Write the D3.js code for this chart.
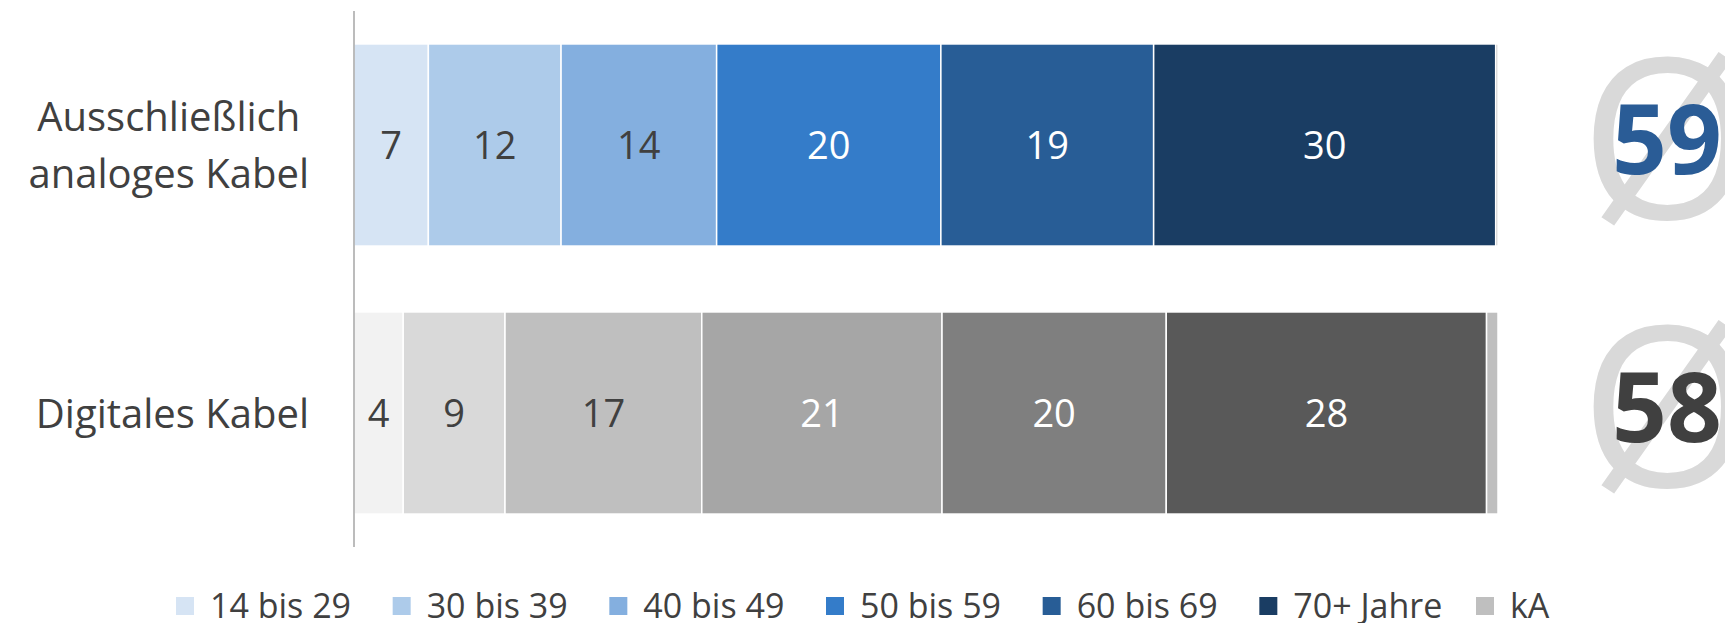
<!DOCTYPE html>
<html><head><meta charset="utf-8">
<script src="https://cdn.jsdelivr.net/npm/d3@7"></script>
<style>html,body{margin:0;padding:0;background:#fff;}svg{display:block;}</style>
</head><body>
<svg id="chart" width="1725" height="623"></svg>
<script>
const categories = [["Ausschließlich", "analoges Kabel"], ["Digitales Kabel"]];
const categoryKeys = ["analog", "digital"];
const seriesNames = ["14 bis 29", "30 bis 39", "40 bis 49", "50 bis 59", "60 bis 69", "70+ Jahre", "kA"];
const analogValues = [6.5, 11.6, 13.6, 19.6, 18.6, 29.9, 0.2];
const digitalValues = [4.3, 8.9, 17.2, 21.0, 19.6, 28.0, 1.0];
const averages = [59, 58];
const blueColors = ["#D6E4F4", "#ADCBEA", "#84AFDF", "#347CC9", "#285D96", "#1A3D63", "#BFBFBF"];
const grayColors = ["#F2F2F2", "#D9D9D9", "#BFBFBF", "#A6A6A6", "#7F7F7F", "#595959", "#BFBFBF"];
const legendColors = ["#D6E4F4", "#ADCBEA", "#84AFDF", "#347CC9", "#285D96", "#1A3D63", "#BFBFBF"];

const svg = d3.select("#chart");
const font = "'Open Sans', sans-serif";
const x = d3.scaleLinear().domain([0, 100]).range([354, 1498]);
const y = d3.scaleBand().domain(categoryKeys).range([11, 547]).paddingInner(0.246).paddingOuter(0.123);

const rows = [
  {key: "analog", values: analogValues, colors: blueColors, avg: averages[0], avgColor: "#2A5C96"},
  {key: "digital", values: digitalValues, colors: grayColors, avg: averages[1], avgColor: "#404040"}
];

rows.forEach(row => {
  let cum = 0;
  const segs = row.values.map((v, i) => { const s = {v, i, x0: cum, x1: cum + v}; cum += v; return s; });
  const g = svg.append("g");
  g.selectAll("rect").data(segs).enter().append("rect")
    .attr("x", d => x(d.x0)).attr("width", d => x(d.x1) - x(d.x0))
    .attr("y", y(row.key)).attr("height", y.bandwidth())
    .attr("fill", d => row.colors[d.i])
    .attr("stroke", "#fff").attr("stroke-width", 1.5);
  g.selectAll("text").data(segs.filter(d => d.i < 6)).enter().append("text")
    .attr("x", d => (x(d.x0) + x(d.x1)) / 2)
    .attr("y", y(row.key) + y.bandwidth() / 2)
    .attr("dy", "0.36em")
    .attr("text-anchor", "middle")
    .attr("font-family", font).attr("font-size", 38)
    .attr("fill", d => d.i < 3 ? "#404040" : "#FFFFFF")
    .text(d => Math.round(d.v));
  // average symbol
  const cy = y(row.key) + y.bandwidth() / 2;
  svg.append("text")
    .attr("x", 1667).attr("y", cy + 73.6)
    .attr("text-anchor", "middle")
    .attr("font-family", font).attr("font-size", 224)
    .attr("fill", "#D9D9D9")
    .text("Ø");
  svg.append("text")
    .attr("x", 1667).attr("y", cy + 28.5)
    .attr("text-anchor", "middle")
    .attr("font-family", font).attr("font-weight", 700).attr("font-size", 96)
    .attr("fill", row.avgColor)
    .text(row.avg);
});

// axis line
svg.append("line").attr("x1", 354).attr("x2", 354).attr("y1", 11).attr("y2", 547)
  .attr("stroke", "#A6A6A6").attr("stroke-width", 1.5);

// category labels
categories.forEach((lines, ci) => {
  const cy = y(categoryKeys[ci]) + y.bandwidth() / 2;
  const lh = 57;
  const t = svg.append("g");
  const texts = lines.map((ln, li) => t.append("text")
    .attr("font-family", font).attr("font-size", 40).attr("fill", "#404040")
    .attr("text-anchor", "middle")
    .attr("y", cy + 14.5 + (li - (lines.length - 1) / 2) * lh)
    .text(ln));
  const maxW = d3.max(texts, tx => tx.node().getComputedTextLength());
  texts.forEach(tx => tx.attr("x", 309 - maxW / 2));
});

// legend
const lx = d3.scalePoint().domain(seriesNames).range([176, 1476]);
const leg = svg.append("g").selectAll("g").data(seriesNames).enter().append("g")
  .attr("transform", d => `translate(${lx(d)},606)`);
leg.append("rect").attr("x", 0).attr("y", -9).attr("width", 18).attr("height", 18)
  .attr("fill", (d, i) => legendColors[i]);
leg.append("text").attr("x", 34).attr("y", 0).attr("dy", "0.36em")
  .attr("font-family", font).attr("font-size", 34).attr("fill", "#404040")
  .text(d => d);
</script>
</body></html>
